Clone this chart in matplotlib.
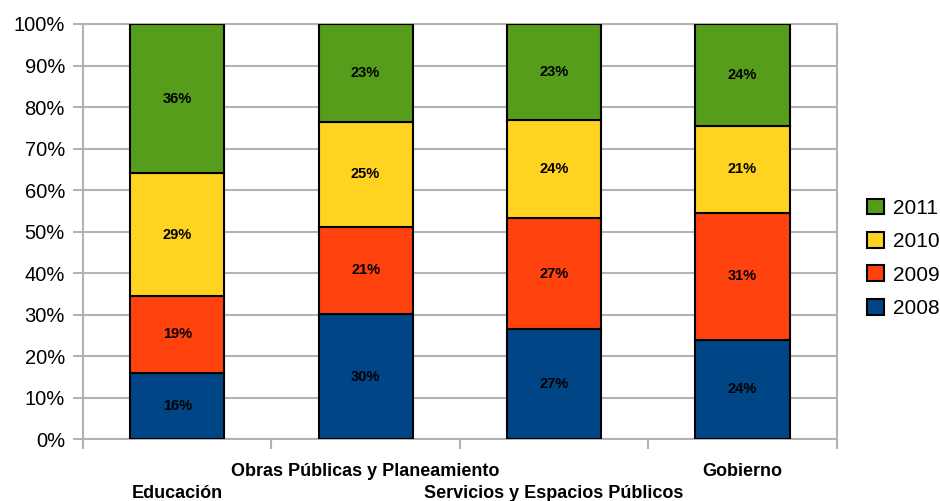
import matplotlib.pyplot as plt
import numpy as np

plt.rcParams['font.family'] = ['Liberation Sans', 'DejaVu Sans']

categories = ['Educación', 'Obras Públicas y Planeamiento',
              'Servicios y Espacios Públicos', 'Gobierno']
years = ['2008', '2009', '2010', '2011']
# share of each year per category (%)
v2008 = [15.9, 30.2, 26.6, 24.0]
v2009 = [18.7, 21.0, 26.6, 30.6]
v2010 = [29.4, 25.3, 23.8, 20.9]
v2011 = [36.0, 23.4, 23.0, 24.4]
colors = ['#004586', '#ff420e', '#ffd320', '#579d1c']

series = [v2008, v2009, v2010, v2011]

fig = plt.figure(figsize=(9.4, 5.01), dpi=100)
ax = fig.add_axes([0.0883, 0.1232, 0.8017, 0.8289])

x = np.arange(len(categories))
bottom = np.zeros(len(categories))
handles = []
for vals, col, yr in zip(series, colors, years):
    bars = ax.bar(x, vals, 0.5, bottom=bottom, color=col, edgecolor='black',
                  linewidth=1.5, label=yr, zorder=3)
    handles.append(bars)
    for xi, b, v in zip(x, bottom, vals):
        ax.text(xi, b + v / 2, f'{v:.0f}%', ha='center', va='center',
                fontsize=10.5, fontweight='bold', zorder=4)
    bottom += np.array(vals)

ax.set_xlim(-0.5, len(categories) - 0.5)
ax.set_ylim(0, 100)
ax.set_yticks(np.arange(0, 101, 10))
ax.set_yticklabels([f'{t}%' for t in range(0, 101, 10)], fontsize=14.5)
ax.yaxis.grid(True, color='#b3b3b3', linewidth=1.5, zorder=0)
ax.tick_params(axis='y', length=7, width=1.5, color='#b3b3b3', pad=6)

# staggered category labels
labels = [c if i % 2 else '\n' + c for i, c in enumerate(categories)]
ax.set_xticks(x)
ax.set_xticklabels(labels, fontsize=13, fontweight='bold', linespacing=1.4)
ax.tick_params(axis='x', length=0, pad=17)
ax.set_xticks(np.arange(-0.5, len(categories), 1), minor=True)
ax.tick_params(axis='x', which='minor', length=7, width=1.5, color='#b3b3b3')

for s in ax.spines.values():
    s.set_color('#b3b3b3')
    s.set_linewidth(1.5)

leg = ax.legend(handles[::-1], years[::-1], loc='center left',
                bbox_to_anchor=(1.027, 0.436), frameon=False, fontsize=15,
                handlelength=0.8, handleheight=0.8, handletextpad=0.45,
                labelspacing=0.68, borderpad=0)

fig.savefig('out.png', dpi=100)
